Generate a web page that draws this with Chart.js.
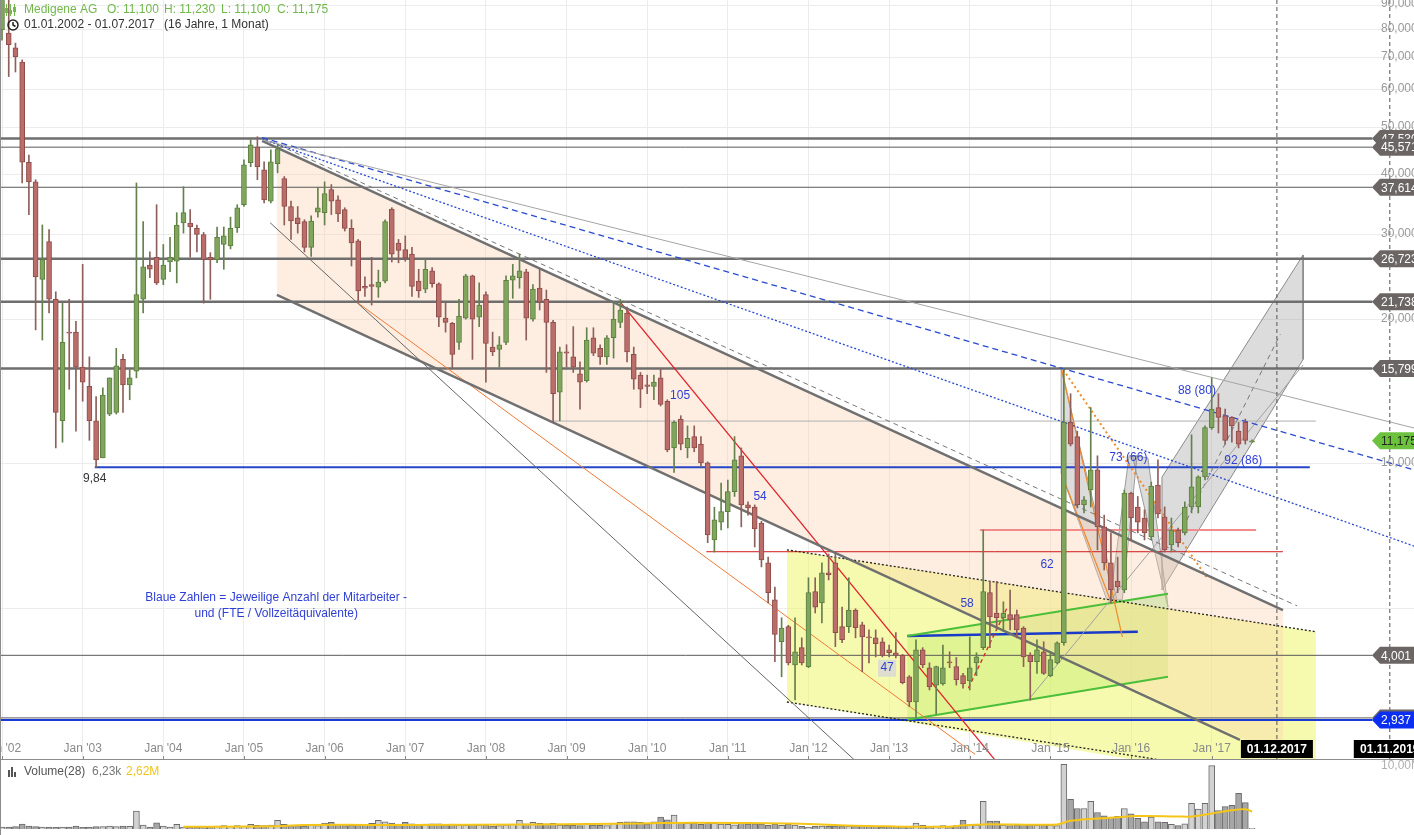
<!DOCTYPE html>
<html lang="de">
<head>
<meta charset="utf-8">
<title>Medigene AG</title>
<script src="https://cdn.jsdelivr.net/npm/chart.js"></script>
<style>
  html, body { margin: 0; padding: 0; background: #fff; }
  #wrap { position: relative; width: 1414px; height: 835px; overflow: hidden; }
  #priceChart { position: absolute; left: 0; top: 0; }
  #volumeChart { position: absolute; left: 0; top: 760px; }
</style>
</head>
<body>
<div id="wrap">
  <canvas id="priceChart" width="1414" height="760"></canvas>
  <canvas id="volumeChart" width="1414" height="75"></canvas>
</div>
<script>
Chart.defaults.font.family = '"Liberation Sans", Arial, sans-serif';
Chart.defaults.font.size = 12;

// 月足データ（0 = 2002年1月）
const candleOpen = [
  79.9, 78.7, 73.3, 68.5, 42.4, 38.6, 24.2, 29.0, 22.0, 12.3,
  18.8, 18.8, 15.9, 14.5, 12.3, 10.3, 12.7, 12.8, 16.5, 14.6,
  15.6, 22.0, 25.9, 26.9, 24.2, 26.3, 26.4, 31.7, 31.7, 30.9,
  30.0, 26.9, 26.6, 28.6, 28.4, 31.0, 34.6, 42.3, 45.6, 40.9,
  35.2, 42.1, 39.2, 34.3, 32.5, 31.9, 28.2, 33.4, 33.3, 37.2,
  35.4, 33.8, 30.9, 29.1, 23.4, 23.6, 23.3, 24.0, 33.9, 28.8,
  27.9, 27.3, 24.0, 23.1, 25.2, 23.7, 20.1, 19.6, 17.9, 20.1,
  24.6, 20.2, 22.5, 17.5, 17.3, 17.9, 24.1, 24.4, 25.1, 20.0,
  23.2, 22.0, 19.7, 14.1, 17.1, 16.7, 15.4, 14.9, 18.3, 17.4,
  16.7, 18.3, 19.7, 20.6, 16.9, 15.3, 14.6, 14.5, 15.1, 13.5,
  10.8, 12.4, 10.8, 11.4, 11.0, 10.05, 6.95, 7.57, 7.96, 8.76,
  10.4, 8.22, 8.14, 7.54, 6.23, 5.22, 4.27, 4.59, 3.82, 4.15,
  3.79, 5.43, 5.14, 5.94, 6.23, 4.59, 4.59, 4.97, 4.63, 4.37,
  4.35, 4.27, 4.11, 4.05, 4.00, 3.61, 3.20, 4.11, 3.77, 3.47,
  3.49, 3.88, 3.79, 3.63, 3.54, 3.86, 4.15, 5.40, 4.90, 4.79,
  4.86, 4.86, 4.56, 4.00, 3.88, 4.07, 3.63, 3.86, 4.25, 12.2,
  11.4, 8.22, 8.83, 9.72, 7.40, 6.23, 5.71, 5.47, 8.70, 8.14,
  7.72, 7.05, 9.04, 7.76, 6.79, 7.29, 7.19, 8.14, 8.14, 9.40,
  11.9, 13.1, 12.6, 12.5, 11.7, 12.2, 11.10
];
const candleHigh = [
  100, 95, 75.0, 69.2, 43.9, 39.0, 31.4, 30.7, 22.8, 21.6,
  22.0, 19.8, 26.0, 16.7, 13.8, 14.4, 15.1, 17.4, 16.9, 15.7,
  38.4, 31.9, 27.6, 34.6, 28.6, 29.6, 33.3, 37.7, 33.8, 31.4,
  30.3, 27.5, 31.1, 31.1, 32.6, 34.6, 42.9, 47.2, 47.9, 42.5,
  45.0, 46.1, 39.6, 35.2, 34.3, 32.2, 32.8, 37.6, 38.6, 38.1,
  36.1, 34.1, 32.2, 29.3, 24.5, 26.9, 25.3, 32.2, 34.1, 29.3,
  29.8, 28.2, 25.4, 26.6, 25.6, 23.8, 21.6, 19.7, 22.0, 24.8,
  24.7, 23.8, 22.8, 18.8, 18.4, 24.6, 26.0, 27.3, 25.4, 23.6,
  25.4, 23.0, 19.9, 17.5, 17.7, 19.3, 16.3, 19.2, 19.2, 17.7,
  18.5, 21.7, 22.0, 21.2, 17.5, 15.5, 15.3, 15.3, 15.8, 13.6,
  12.3, 12.6, 12.0, 12.0, 11.4, 10.1, 8.13, 9.13, 9.26, 11.4,
  10.8, 8.34, 8.22, 7.6, 6.40, 5.55, 4.79, 4.62, 4.79, 4.35,
  5.80, 5.80, 6.23, 6.50, 6.50, 5.04, 5.80, 5.0, 4.69, 4.52,
  4.52, 4.35, 4.20, 4.46, 4.02, 3.63, 4.31, 4.15, 3.86, 3.80,
  4.20, 4.07, 3.96, 3.67, 4.37, 4.05, 7.29, 5.70, 5.70, 5.17,
  5.47, 4.97, 4.59, 4.05, 4.31, 4.27, 4.07, 4.27, 15.8, 14.0,
  11.7, 8.56, 13.1, 10.4, 7.83, 7.19, 6.40, 8.83, 8.74, 8.56,
  8.03, 9.17, 10.2, 8.14, 7.72, 7.36, 8.34, 11.5, 9.45, 12.0,
  15.1, 14.0, 13.0, 12.55, 12.2, 12.4, 11.23
];
const candleLow = [
  76.1, 63.9, 65.3, 38.4, 33.0, 19.0, 18.1, 20.6, 10.8, 11.1,
  14.3, 11.7, 13.5, 11.2, 9.84, 10.3, 12.6, 12.7, 12.8, 13.6,
  15.1, 20.6, 24.4, 23.6, 23.6, 25.1, 23.8, 30.2, 26.9, 27.6,
  21.6, 22.0, 26.2, 25.4, 28.0, 30.3, 34.3, 41.5, 39.0, 34.9,
  34.9, 40.3, 31.4, 29.3, 30.2, 27.6, 27.0, 32.6, 31.4, 33.0,
  31.9, 30.5, 25.8, 21.7, 22.3, 21.4, 22.2, 23.8, 26.3, 26.2,
  26.4, 22.3, 22.2, 22.7, 23.3, 19.3, 18.8, 15.8, 17.3, 20.0,
  16.5, 19.3, 14.8, 16.8, 15.9, 17.7, 22.1, 23.2, 18.1, 19.8,
  20.9, 15.5, 12.2, 12.3, 15.9, 15.5, 13.0, 14.8, 16.8, 16.1,
  16.1, 16.6, 19.2, 16.3, 14.3, 13.1, 14.0, 13.6, 13.2, 10.6,
  9.6, 10.7, 10.3, 10.6, 9.86, 6.86, 6.56, 7.29, 7.36, 8.56,
  7.40, 7.83, 6.72, 6.11, 5.14, 3.88, 3.61, 3.82, 3.23, 3.82,
  3.77, 4.90, 4.67, 5.74, 4.17, 4.25, 4.46, 4.35, 3.70, 3.86,
  3.97, 3.97, 3.97, 3.95, 3.49, 3.13, 2.97, 3.77, 3.39, 3.02,
  3.47, 3.77, 3.47, 3.42, 3.39, 3.63, 4.11, 4.15, 4.52, 4.48,
  4.52, 4.35, 3.79, 3.23, 3.67, 3.65, 3.61, 3.84, 4.20, 10.9,
  8.10, 7.91, 8.14, 6.63, 6.02, 5.14, 5.40, 5.40, 6.95, 7.19,
  6.95, 6.95, 7.72, 6.56, 6.56, 6.72, 7.12, 7.91, 7.91, 9.26,
  11.8, 11.6, 11.0, 11.1, 10.8, 11.0, 11.10
];
const candleClose = [
  95, 74.4, 70.2, 42.4, 38.6, 24.5, 26.6, 22.0, 12.8, 17.9,
  18.7, 15.9, 14.8, 12.3, 10.2, 13.9, 15.1, 16.0, 14.6, 15.1,
  22.5, 25.7, 25.4, 23.8, 25.9, 26.9, 31.4, 33.3, 31.1, 30.0,
  26.6, 26.6, 29.6, 29.8, 30.9, 34.1, 41.9, 46.1, 41.5, 35.4,
  42.5, 45.2, 34.3, 32.0, 31.6, 28.2, 32.0, 34.1, 36.5, 35.2,
  33.1, 30.9, 28.8, 22.9, 23.2, 23.4, 23.9, 31.9, 27.3, 27.8,
  26.8, 23.4, 22.9, 25.4, 23.7, 20.2, 19.7, 16.9, 20.3, 24.6,
  20.0, 21.4, 17.8, 17.1, 17.7, 24.1, 24.6, 25.2, 20.1, 23.1,
  21.7, 19.7, 14.0, 17.1, 17.0, 15.9, 14.8, 18.1, 17.0, 16.7,
  18.3, 20.0, 20.9, 17.1, 15.0, 14.3, 14.5, 14.8, 13.3, 10.7,
  12.2, 11.0, 11.3, 10.8, 10.05, 7.12, 7.65, 7.96, 8.76, 10.2,
  8.22, 8.10, 7.33, 6.32, 5.40, 4.42, 4.56, 3.86, 4.07, 3.86,
  5.40, 5.04, 5.94, 5.88, 4.46, 4.31, 4.97, 4.57, 4.37, 4.35,
  4.23, 4.00, 4.05, 4.00, 3.51, 3.20, 4.11, 3.82, 3.44, 3.79,
  3.77, 3.86, 3.56, 3.49, 3.77, 3.97, 5.43, 4.81, 4.79, 4.90,
  4.74, 4.52, 3.97, 3.88, 4.11, 3.67, 3.92, 4.25, 12.2, 11.0,
  8.22, 8.42, 9.72, 7.40, 6.23, 5.47, 5.55, 8.70, 7.72, 7.57,
  7.19, 9.00, 7.87, 6.63, 7.29, 6.86, 8.14, 8.96, 9.40, 11.9,
  13.0, 12.5, 11.2, 12.0, 11.0, 11.2, 11.175
];

// 出来高（百万株）
const volumeMillions = [
  0.3, 0.3, 0.35, 0.75, 0.45, 0.35, 0.3, 0.3, 0.25, 0.3,
  0.3, 0.45, 0.25, 0.3, 0.35, 0.35, 0.45, 0.35, 0.45, 0.4,
  2.7, 0.6, 0.3, 0.95, 0.45, 0.3, 0.7, 0.3, 0.25, 0.3,
  0.4, 0.35, 0.45, 0.5, 0.4, 0.5, 0.45, 0.7, 0.55, 0.5,
  0.6, 1.3, 0.7, 0.5, 0.5, 0.45, 0.55, 0.5, 0.9, 1.0,
  0.7, 0.5, 0.55, 0.6, 0.7, 0.85, 1.3, 1.1, 0.9, 0.75,
  1.0, 0.8, 0.6, 0.75, 0.8, 0.8, 0.6, 0.75, 0.6, 0.55,
  0.7, 0.6, 0.6, 0.45, 0.5, 0.65, 0.75, 1.3, 0.8, 1.0,
  0.85, 0.8, 0.85, 0.6, 0.55, 0.55, 0.5, 0.85, 0.6, 0.55,
  0.5, 0.9, 1.0, 1.1, 1.1, 1.0, 0.8, 1.1, 1.8, 1.4,
  2.1, 1.0, 0.85, 0.9, 0.7, 0.9, 0.9, 0.75, 0.7, 0.65,
  0.95, 0.75, 0.8, 0.75, 0.55, 0.75, 0.55, 0.75, 0.6, 0.4,
  0.3, 0.4, 0.45, 0.4, 0.45, 0.45, 0.45, 0.45, 0.5, 0.45,
  0.4, 0.3, 0.35, 0.35, 0.4, 0.45, 0.9, 0.55, 0.4, 0.45,
  0.5, 0.45, 0.5, 1.3, 0.6, 0.6, 4.2, 1.2, 1.2, 0.6,
  0.5, 0.6, 0.7, 0.6, 0.55, 0.65, 0.6, 0.5, 9.8, 4.5,
  3.1, 3.1, 4.2, 2.5, 2.0, 1.8, 1.9, 3.1, 2.3, 1.6,
  1.1, 1.8, 1.1, 1.0, 0.7, 0.5, 0.8, 3.9, 3.0, 3.9,
  9.6, 2.8, 3.4, 3.6, 5.4, 4.0, 0.1
];
// 出来高 28 期間平均（図から読んだ値）
const volumeAvgPoints = [
  [27, 0.35], [40, 0.4], [45, 0.6], [60, 0.62], [80, 0.68], [95, 0.85],
  [103, 0.95], [117, 0.85], [124, 0.6], [132, 0.4], [141, 0.35], [143, 0.55],
  [146, 0.7], [157, 0.7], [159, 1.25], [165, 1.7], [169, 1.95], [175, 1.9],
  [177, 1.9], [180, 2.35], [183, 2.85], [185, 3.0], [186, 2.62]
];

// 軸
const yearMonths = [0, 12, 24, 36, 48, 60, 72, 84, 96, 108, 120, 132, 144, 156, 168, 180];
const yearLabels = ["Jan '02", "Jan '03", "Jan '04", "Jan '05", "Jan '06", "Jan '07", "Jan '08", "Jan '09",
  "Jan '10", "Jan '11", "Jan '12", "Jan '13", "Jan '14", "Jan '15", "Jan '16", "Jan '17"];
const priceTicks = [10, 20, 30, 40, 50, 60, 70, 80, 90];
const gridPrices = [5, 10, 20, 30, 40, 50, 60, 70, 80, 90];

// 水平ライン（価格）
const levelPrices = [47.53, 45.571, 37.614, 26.723, 21.738, 15.799, 4.001, 2.965];
const levelHeavy = [true, false, false, true, true, true, false, false];
const supportPrice = 2.937;
const lastPrice = 11.175;

// トレンドライン [月, 価格]
const lineThinGray = [[38.7, 47.2], [210.1, 11.88]];
const lineBlueDashed = [[38.7, 47.7], [210.1, 9.72]];
const lineBlueDotted = [[38.7, 47.4], [210.1, 6.75]];
const lineGrayDashed = [[38.7, 47.7], [192.7, 5.07]];
const lineThickUpper = [[38.7, 46.97], [190.6, 4.97]];
const lineThickLower = [[40.9, 22.46], [184.2, 2.67]];
const lineSteepGray = [[39.9, 31.74], [126.9, 2.42]];
const lineOrange = [[52.8, 21.7], [144.8, 2.49]];
const lineRed = [[92.0, 21.7], [147.8, 2.42]];
const lineRedDashed = [[143.8, 3.42], [149.6, 5.04]];
const lineOrangeDotted = [[157.9, 15.7], [179.3, 5.80]];
const lineOrangeA = [[157.7, 15.7], [166.7, 4.37]];
const lineOrangeB = [[157.6, 9.58], [164.9, 5.22]];
const lineGrayRise = [[152.7, 3.23], [193.6, 16.06]];
const lineGrayDashedRise = [[176.3, 7.65], [190.2, 18.6]];
const lineYellowTop = [[116.8, 6.63], [195.5, 4.48]];
const lineYellowBottom = [[116.8, 3.20], [195.5, 2.16]];
const lineGreenTop = [[134.7, 4.39], [173.5, 5.37]];
const lineGreenBottom = [[134.7, 2.94], [173.5, 3.61]];
const lineBlueBase = [[134.7, 4.39], [169.0, 4.48]];
const lineLow984 = [[13.8, 9.84], [194.6, 9.84]];
const lineGrayLow = [[82.0, 12.28], [195.5, 12.28]];
const lineRedLevel = [[104.8, 6.57], [190.6, 6.57]];
const linePinkLevel = [[145.5, 7.29], [186.6, 7.29]];
const markerMonths = [189.7, 206.5];
const markerLabels = ['01.12.2017', '01.11.2019'];

// 塗りつぶしゾーン [月, 価格]
const zoneSalmon = [[40.9, 45.4], [190.6, 4.97], [190.6, 2.46], [40.9, 22.46]];
const zoneYellow = [[116.8, 6.63], [195.5, 4.48], [195.5, 2.10], [116.8, 3.20]];
const zoneGreen = [[134.7, 4.39], [173.5, 5.37], [173.5, 3.61], [134.7, 2.94]];
const zoneGrayA = [[157.6, 15.7], [165.9, 5.22], [164.4, 5.22], [157.6, 9.58], [157.6, 15.7]];
const zoneGrayB = [[164.9, 5.22], [166.7, 5.22], [168.9, 10.4], [167.7, 10.4], [164.9, 5.22]];
const zoneGrayC = [[168.2, 10.4], [170.5, 10.3], [173.5, 5.04], [172.6, 5.66], [168.2, 10.4]];
const zoneGrayD = [[172.6, 5.47], [172.6, 9.39], [193.6, 27.2], [193.6, 16.5], [172.6, 5.47]];

// 社員数の注記 [月, 価格]
const staffTexts = ['105', '54', '47', '58', '62', '73 (66)', '88 (80)', '92 (86)'];
const staffAnchors = [[100.9, 13.86], [112.8, 8.54], [131.7, 3.77], [143.6, 5.12],
  [155.5, 6.17], [167.6, 10.3], [177.8, 14.2], [184.7, 10.15]];
const noteLines = ['Blaue Zahlen = Jeweilige Anzahl der Mitarbeiter -', 'und (FTE / Vollzeitäquivalente)'];
const noteAnchors = [[40.8, 5.27], [40.8, 4.88]];
const lowLabelAnchor = [13.8, 9.30];

const X_MIN = -0.3;
const X_MAX = 210.1;
const PRICE_MIN = 2.424;
const PRICE_MAX = 92.19;
const VOL_MAX = 10.45;
const LEVEL_END = 203.9;

const monthIndex = candleOpen.map((_, i) => i);
const isUp = monthIndex.map((i) => candleClose[i] >= candleOpen[i]);
const fmt3 = (v) => v.toFixed(3).replace('.', ',');
const toXY = (pts) => pts.map(([m, p]) => ({ x: m, y: p }));

const polygonDefs = [
  { pts: zoneSalmon, fill: 'rgba(250, 205, 170, 0.35)' },
  { pts: zoneYellow, fill: 'rgba(238, 245, 110, 0.55)' },
  { pts: zoneGreen, fill: 'rgba(120, 220, 80, 0.35)' },
  { pts: zoneGrayA, fill: 'rgba(140, 140, 140, 0.3)', stroke: '#9a9a9a' },
  { pts: zoneGrayB, fill: 'rgba(140, 140, 140, 0.3)', stroke: '#9a9a9a' },
  { pts: zoneGrayC, fill: 'rgba(140, 140, 140, 0.3)', stroke: '#9a9a9a' },
  { pts: zoneGrayD, fill: 'rgba(140, 140, 140, 0.3)', stroke: '#8a8a8a' },
];

const lineDefs = [
  { pts: lineThinGray, color: '#a5a5a5', width: 1 },
  { pts: lineBlueDashed, color: '#2a4ad0', width: 1.3, dash: [6, 4] },
  { pts: lineBlueDotted, color: '#2a4ad0', width: 1.3, dash: [2, 2] },
  { pts: lineGrayDashed, color: '#777777', width: 1, dash: [5, 4] },
  { pts: lineThickUpper, color: '#707070', width: 2.5 },
  { pts: lineThickLower, color: '#707070', width: 2.5 },
  { pts: lineSteepGray, color: '#666666', width: 1 },
  { pts: lineOrange, color: '#f07a35', width: 1 },
  { pts: lineRed, color: '#e0202a', width: 1.3 },
  { pts: lineRedDashed, color: '#e0202a', width: 1.3, dash: [4, 3] },
  { pts: lineOrangeDotted, color: '#f08a2a', width: 2, dash: [2, 3] },
  { pts: lineOrangeA, color: '#f08a2a', width: 1.2 },
  { pts: lineOrangeB, color: '#f08a2a', width: 1.2 },
  { pts: lineGrayRise, color: '#a0a0a0', width: 1 },
  { pts: lineGrayDashedRise, color: '#777777', width: 1, dash: [5, 4] },
  { pts: lineYellowTop, color: '#222222', width: 1.3, dash: [2, 2] },
  { pts: lineYellowBottom, color: '#222222', width: 1.3, dash: [2, 2] },
  { pts: lineGreenTop, color: '#4cbf3a', width: 2 },
  { pts: lineGreenBottom, color: '#4cbf3a', width: 2 },
  { pts: lineBlueBase, color: '#1a3ac8', width: 2.5 },
  { pts: lineLow984, color: '#2646c8', width: 2 },
  { pts: lineGrayLow, color: '#b0b0b0', width: 1 },
  { pts: lineRedLevel, color: '#d01818', width: 1 },
  { pts: linePinkLevel, color: '#f28b8b', width: 2 },
];

const priceDatasets = [];
polygonDefs.forEach((d) => {
  priceDatasets.push({
    type: 'line',
    data: toXY(d.pts),
    fill: 'shape',
    backgroundColor: d.fill,
    borderColor: d.stroke || 'rgba(0,0,0,0)',
    borderWidth: d.stroke ? 1 : 0,
    pointRadius: 0,
    tension: 0,
    order: 50,
  });
});
levelPrices.forEach((p, i) => {
  priceDatasets.push({
    type: 'line',
    data: toXY([[X_MIN - 1, p], [LEVEL_END, p]]),
    borderColor: levelHeavy[i] ? '#6e6e6e' : '#5a5a5a',
    borderWidth: levelHeavy[i] ? 2.5 : 1,
    fill: false,
    pointRadius: 0,
    order: 30,
  });
});
priceDatasets.push({
  type: 'line',
  data: toXY([[X_MIN - 1, supportPrice], [LEVEL_END, supportPrice]]),
  borderColor: '#1a3ad8',
  borderWidth: 2,
  fill: false,
  pointRadius: 0,
  order: 29,
});
lineDefs.forEach((d) => {
  priceDatasets.push({
    type: 'line',
    data: toXY(d.pts),
    borderColor: d.color,
    borderWidth: d.width,
    borderDash: d.dash || [],
    fill: false,
    pointRadius: 0,
    tension: 0,
    order: 20,
  });
});
markerMonths.forEach((m) => {
  priceDatasets.push({
    type: 'line',
    data: toXY([[m, PRICE_MIN], [m, PRICE_MAX]]),
    borderColor: '#555555',
    borderWidth: 1,
    borderDash: [4, 3],
    fill: false,
    pointRadius: 0,
    order: 10,
  });
});

// ローソク足（ヒゲ + 実体）
priceDatasets.push({
  type: 'bar',
  data: monthIndex.map((i) => ({ x: i, y: [candleLow[i], candleHigh[i]] })),
  backgroundColor: isUp.map((u) => (u ? '#64804c' : '#8e5f5b')),
  barThickness: 1,
  grouped: false,
  order: 2,
});
priceDatasets.push({
  type: 'bar',
  data: monthIndex.map((i) => ({ x: i, y: [candleOpen[i], candleClose[i]] })),
  backgroundColor: isUp.map((u) => (u ? '#80a55c' : '#bb6d69')),
  borderColor: isUp.map((u) => (u ? '#5d7f40' : '#8e4d4a')),
  borderWidth: 1,
  borderSkipped: false,
  barThickness: 5,
  minBarLength: 1,
  grouped: false,
  order: 1,
});

function drawTag(ctx, yPix, text, bg, fg, right) {
  const tip = right - 42;
  const h = 17;
  ctx.fillStyle = bg;
  ctx.beginPath();
  ctx.moveTo(tip, yPix);
  ctx.lineTo(tip + 8, yPix - h / 2);
  ctx.lineTo(right + 2, yPix - h / 2);
  ctx.lineTo(right + 2, yPix + h / 2);
  ctx.lineTo(tip + 8, yPix + h / 2);
  ctx.closePath();
  ctx.fill();
  ctx.fillStyle = fg;
  ctx.textAlign = 'left';
  ctx.textBaseline = 'middle';
  ctx.fillText(text, tip + 9, yPix + 1);
}

// 注記・ラベル類
const priceOverlay = {
  id: 'priceOverlay',
  afterDatasetsDraw(chart) {
    const { ctx, chartArea, scales } = chart;
    const xs = scales.x;
    const ys = scales.y;
    const right = chartArea.right;
    ctx.save();
    ctx.font = '12px "Liberation Sans", Arial, sans-serif';

    // 価格軸の目盛り
    ctx.fillStyle = '#9a9a9a';
    ctx.textAlign = 'left';
    ctx.textBaseline = 'middle';
    priceTicks.forEach((v) => ctx.fillText(fmt3(v), right - 33, ys.getPixelForValue(v) - 1));

    // 価格タグ
    levelPrices.forEach((p) => drawTag(ctx, ys.getPixelForValue(p), fmt3(p), '#6b6664', '#ffffff', right));
    drawTag(ctx, ys.getPixelForValue(supportPrice), fmt3(supportPrice), '#0b2ff0', '#ffffff', right);
    drawTag(ctx, ys.getPixelForValue(lastPrice), fmt3(lastPrice), '#6cc23e', '#1f2a18', right);

    // 社員数
    ctx.textAlign = 'center';
    staffTexts.forEach((t, i) => {
      const px = xs.getPixelForValue(staffAnchors[i][0]);
      const py = ys.getPixelForValue(staffAnchors[i][1]);
      if (t === '47') {
        ctx.fillStyle = 'rgba(215, 215, 215, 0.8)';
        ctx.fillRect(px - 9, py - 8, 18, 17);
      }
      ctx.fillStyle = '#2f3fd6';
      ctx.fillText(t, px, py);
    });
    noteLines.forEach((t, i) => {
      ctx.fillText(t, xs.getPixelForValue(noteAnchors[i][0]), ys.getPixelForValue(noteAnchors[i][1]));
    });
    ctx.fillStyle = '#333333';
    ctx.fillText('9,84', xs.getPixelForValue(lowLabelAnchor[0]), ys.getPixelForValue(lowLabelAnchor[1]));

    // 時間軸
    const bottom = chartArea.bottom;
    ctx.fillStyle = '#8a8a8a';
    yearMonths.forEach((m, i) => {
      const px = xs.getPixelForValue(m);
      ctx.fillText(yearLabels[i], px, bottom - 11);
      ctx.fillRect(Math.round(px), bottom - 4, 1, 4);
    });
    ctx.fillStyle = '#8c8c8c';
    ctx.fillRect(0, bottom - 1, right, 1);
    ctx.fillRect(0, 0, 1, bottom);

    ctx.font = 'bold 12px "Liberation Sans", Arial, sans-serif';
    markerMonths.forEach((m, i) => {
      const px = xs.getPixelForValue(m);
      ctx.fillStyle = '#000000';
      ctx.fillRect(px - 36, bottom - 20, 72, 18);
      ctx.fillStyle = '#ffffff';
      ctx.fillText(markerLabels[i], px, bottom - 10);
    });

    // ヘッダー
    ctx.font = '12px "Liberation Sans", Arial, sans-serif';
    ctx.textAlign = 'left';
    ctx.fillStyle = '#72b84c';
    ctx.fillRect(6, 4, 1, 12);
    ctx.fillRect(10, 4, 1, 12);
    ctx.fillRect(14, 4, 1, 12);
    ctx.fillRect(5, 8, 3, 5);
    ctx.fillRect(9, 10, 3, 4);
    ctx.fillRect(13, 7, 3, 5);
    ctx.fillText('Medigene AG', 24, 10);
    ctx.fillText('O: 11,100', 107, 10);
    ctx.fillText('H: 11,230', 164, 10);
    ctx.fillText('L: 11,100', 221, 10);
    ctx.fillText('C: 11,175', 277, 10);
    ctx.fillStyle = '#333333';
    ctx.strokeStyle = '#222222';
    ctx.lineWidth = 1.5;
    ctx.beginPath();
    ctx.arc(13, 25, 5, 0, Math.PI * 2);
    ctx.moveTo(13, 22);
    ctx.lineTo(13, 25);
    ctx.lineTo(15.5, 26.5);
    ctx.stroke();
    ctx.fillText('01.01.2002 - 01.07.2017', 24, 25);
    ctx.fillText('(16 Jahre, 1 Monat)', 164, 25);
    ctx.restore();
  },
};

new Chart(document.getElementById('priceChart'), {
  type: 'line',
  data: { datasets: priceDatasets },
  options: {
    responsive: false,
    animation: false,
    devicePixelRatio: 1,
    events: [],
    layout: { padding: 0 },
    plugins: { legend: { display: false }, tooltip: { enabled: false } },
    scales: {
      x: {
        type: 'linear',
        min: X_MIN,
        max: X_MAX,
        offset: false,
        afterBuildTicks: (scale) => {
          scale.ticks = yearMonths.map((v) => ({ value: v }));
        },
        ticks: { display: false },
        grid: { color: '#ececec', drawTicks: false, offset: false },
        border: { display: false },
      },
      y: {
        type: 'logarithmic',
        position: 'right',
        min: PRICE_MIN,
        max: PRICE_MAX,
        afterBuildTicks: (scale) => {
          scale.ticks = gridPrices.map((v) => ({ value: v }));
        },
        ticks: { display: false },
        grid: { color: '#ececec', drawTicks: false },
        border: { display: false },
      },
    },
  },
  plugins: [priceOverlay],
});

// 出来高チャート
const volumeOverlay = {
  id: 'volumeOverlay',
  afterDraw(chart) {
    const { ctx, chartArea } = chart;
    ctx.save();
    ctx.fillStyle = '#8c8c8c';
    ctx.fillRect(0, 0, 1, chart.height);
    ctx.font = '12px "Liberation Sans", Arial, sans-serif';
    ctx.textBaseline = 'middle';
    ctx.textAlign = 'left';
    ctx.fillStyle = '#b0b0b0';
    ctx.fillText('10,00M', chartArea.right - 33, 6);
    ctx.fillStyle = '#555555';
    ctx.fillRect(8, 10, 2, 7);
    ctx.fillRect(11, 7, 2, 10);
    ctx.fillRect(14, 12, 2, 5);
    ctx.fillText('Volume(28)', 24, 12);
    ctx.fillStyle = '#777777';
    ctx.fillText('6,23k', 92, 12);
    ctx.fillStyle = '#f0c419';
    ctx.fillText('2,62M', 126, 12);
    ctx.restore();
  },
};

new Chart(document.getElementById('volumeChart'), {
  type: 'line',
  data: {
    datasets: [
      {
        type: 'line',
        data: toXY(volumeAvgPoints),
        borderColor: '#f5c518',
        borderWidth: 2,
        tension: 0.35,
        pointRadius: 0,
        fill: false,
        order: 0,
      },
      {
        type: 'bar',
        data: monthIndex.map((i) => ({ x: i, y: volumeMillions[i] })),
        backgroundColor: isUp.map((u) => (u ? '#d2d2d2' : '#a6a6a6')),
        borderColor: '#6b6b6b',
        borderWidth: 1,
        borderSkipped: 'bottom',
        barThickness: 6,
        grouped: false,
        order: 1,
      },
    ],
  },
  options: {
    responsive: false,
    animation: false,
    devicePixelRatio: 1,
    events: [],
    layout: { padding: { top: 0, bottom: 6, left: 0, right: 0 } },
    plugins: { legend: { display: false }, tooltip: { enabled: false } },
    scales: {
      x: { type: 'linear', min: X_MIN, max: X_MAX, offset: false, display: false },
      y: { type: 'linear', min: 0, max: VOL_MAX, display: false },
    },
  },
  plugins: [volumeOverlay],
});
</script>
</body>
</html>
